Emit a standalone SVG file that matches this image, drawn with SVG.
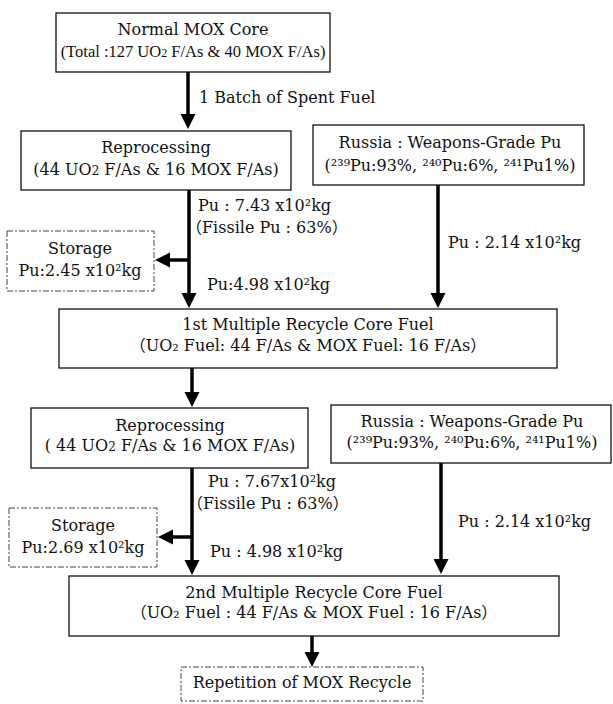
<svg xmlns="http://www.w3.org/2000/svg" width="613" height="704" viewBox="0 0 613 704">
<style>
text{font-family:"DejaVu Serif","Noto Sans CJK JP",serif;font-size:16px;fill:#111}
.m{text-anchor:middle}
.n{font-family:"Liberation Serif","DejaVu Serif",serif;font-size:16.5px}
.box{fill:#fff;stroke:#111;stroke-width:1.3}
.dbox{fill:#fff;stroke:#444;stroke-width:1;stroke-dasharray:6 2 2 2}
.con{stroke:#000;stroke-width:3.5;fill:none}
.s{font-size:12px}
</style>
<defs>
<marker id="ah" markerUnits="userSpaceOnUse" markerWidth="16" markerHeight="16" refX="0" refY="8" orient="auto" viewBox="0 0 16 16">
<path d="M0,0.5 L15,8 L0,15.5 Z" fill="#000"/>
</marker>
</defs>
<rect width="613" height="704" fill="#fff"/>

<g id="connectors">
<line class="con" x1="188" y1="72" x2="188" y2="114" marker-end="url(#ah)"/>
<line class="con" x1="189" y1="190" x2="189" y2="293" marker-end="url(#ah)"/>
<line class="con" x1="189" y1="260" x2="170" y2="260" marker-end="url(#ah)"/>
<line class="con" x1="438" y1="185" x2="438" y2="293" marker-end="url(#ah)"/>
<line class="con" x1="192" y1="368" x2="192" y2="392" marker-end="url(#ah)"/>
<line class="con" x1="192" y1="468" x2="192" y2="560" marker-end="url(#ah)"/>
<line class="con" x1="192" y1="537" x2="173" y2="537" marker-end="url(#ah)"/>
<line class="con" x1="441" y1="463" x2="441" y2="559" marker-end="url(#ah)"/>
<line class="con" x1="312" y1="636" x2="312" y2="652" marker-end="url(#ah)"/>
<text x="199" y="103">1 Batch of Spent Fuel</text>
<text x="198" y="211">Pu : 7.43 x10²kg</text>
<text x="186" y="233">（Fissile Pu : 63%）</text>
<text x="207" y="290">Pu:4.98 x10²kg</text>
<text x="448" y="248">Pu : 2.14 x10²kg</text>
<text x="208" y="487">Pu : 7.67x10²kg</text>
<text x="187" y="509">（Fissile Pu : 63%）</text>
<text x="210" y="557">Pu : 4.98 x10²kg</text>
<text x="458" y="527">Pu : 2.14 x10²kg</text>
</g>

<g id="normal-mox-core">
<rect class="box" x="56" y="13" width="274" height="59"/>
<text class="m" x="193" y="35">Normal MOX Core</text>
<text class="m n" x="193" y="57">(Total :127 UO<tspan class="s">2</tspan> F/As &amp; 40 MOX F/As)</text>
</g>

<g id="reprocessing-1">
<rect class="box" x="21" y="131" width="270" height="59"/>
<text class="m" x="156" y="153">Reprocessing</text>
<text class="m" x="156" y="175">(44 UO<tspan class="s">2</tspan> F/As &amp; 16 MOX F/As)</text>
</g>

<g id="russia-1">
<rect class="box" x="313" y="125" width="271" height="60"/>
<text class="m" x="450" y="148">Russia : Weapons-Grade Pu</text>
<text class="m" x="450" y="171">(²³⁹Pu:93%, ²⁴⁰Pu:6%, ²⁴¹Pu1%)</text>
</g>

<g id="storage-1">
<rect class="dbox" x="7" y="231" width="147" height="60"/>
<text class="m" x="80" y="254">Storage</text>
<text class="m" x="80" y="276">Pu:2.45 x10²kg</text>
</g>

<g id="recycle-core-1">
<rect class="box" x="59" y="309" width="498" height="59"/>
<text class="m" x="308" y="330">1st Multiple Recycle Core Fuel</text>
<text class="m" x="308" y="351">（UO₂ Fuel: 44 F/As &amp; MOX Fuel: 16 F/As）</text>
</g>

<g id="reprocessing-2">
<rect class="box" x="31" y="408" width="277" height="60"/>
<text class="m" x="170" y="431">Reprocessing</text>
<text class="m" x="170" y="451">( 44 UO<tspan class="s">2</tspan> F/As &amp; 16 MOX F/As)</text>
</g>

<g id="russia-2">
<rect class="box" x="331" y="405" width="280" height="58"/>
<text class="m" x="472" y="427">Russia : Weapons-Grade Pu</text>
<text class="m" x="472" y="448">(²³⁹Pu:93%, ²⁴⁰Pu:6%, ²⁴¹Pu1%)</text>
</g>

<g id="storage-2">
<rect class="dbox" x="9" y="508" width="148" height="59"/>
<text class="m" x="83" y="531">Storage</text>
<text class="m" x="83" y="553">Pu:2.69 x10²kg</text>
</g>

<g id="recycle-core-2">
<rect class="box" x="69" y="576" width="490" height="60"/>
<text class="m" x="314" y="598">2nd Multiple Recycle Core Fuel</text>
<text class="m" x="314" y="618">（UO₂ Fuel : 44 F/As &amp; MOX Fuel : 16 F/As）</text>
</g>

<g id="repetition">
<rect class="dbox" x="181" y="667" width="242" height="34"/>
<text class="m" x="302" y="688">Repetition of MOX Recycle</text>
</g>
</svg>
